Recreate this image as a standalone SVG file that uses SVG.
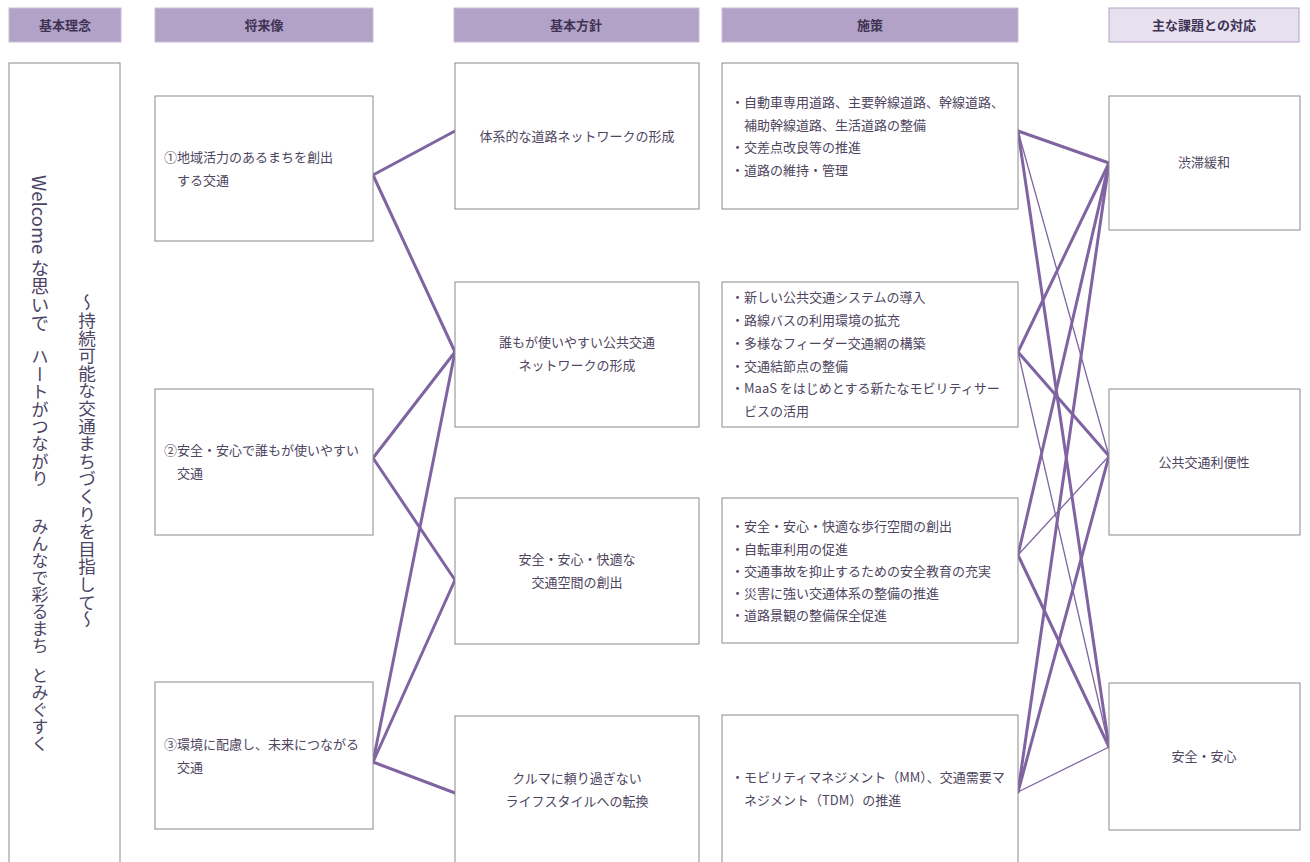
<svg xmlns="http://www.w3.org/2000/svg" width="1310" height="862" viewBox="0 0 1310 862">
<style>
.hd{fill:#b3a2c7;stroke:#c9bdd8;stroke-width:1}
.hd2{fill:#e6e0ef;stroke:#b3a2c7;stroke-width:1}
.ht{font-family:"Noto Sans CJK JP","Noto Sans CJK SC",sans-serif;font-size:13px;font-weight:bold;fill:#3f3354;text-anchor:middle}
.bx{fill:#fff;stroke:#8a8a8a;stroke-width:1}
.t{font-family:"Noto Sans CJK JP","Noto Sans CJK SC",sans-serif;font-size:13px;fill:#4e4560}
.c{text-anchor:middle}
.v{font-family:"Noto Sans CJK JP","Noto Sans CJK SC",sans-serif;fill:#4e4466;writing-mode:vertical-rl}
.k{stroke:#8064a2;stroke-width:3;fill:none;stroke-linecap:round}
.n{stroke:#8064a2;stroke-width:1.3;fill:none}
</style>
<rect width="1310" height="862" fill="#fff"/>
<g id="headers">
<rect class="hd" x="9" y="8" width="112" height="34"/><text class="ht" x="65" y="30">基本理念</text>
<rect class="hd" x="155" y="8" width="218" height="34"/><text class="ht" x="264" y="30">将来像</text>
<rect class="hd" x="454" y="8" width="245" height="34"/><text class="ht" x="576" y="30">基本方針</text>
<rect class="hd" x="722" y="8" width="296" height="34"/><text class="ht" x="870" y="30">施策</text>
<rect class="hd2" x="1109" y="8" width="190" height="34"/><text class="ht" x="1204" y="30">主な課題との対応</text>
</g>
<g id="connectors">
<line class="k" x1="373" y1="175" x2="455" y2="131"/>
<line class="k" x1="373" y1="175" x2="455" y2="352"/>
<line class="k" x1="373" y1="458" x2="455" y2="352"/>
<line class="k" x1="373" y1="458" x2="455" y2="580"/>
<line class="k" x1="373" y1="762" x2="455" y2="352"/>
<line class="k" x1="373" y1="762" x2="455" y2="580"/>
<line class="k" x1="373" y1="762" x2="455" y2="793"/>
<line class="k" x1="1018" y1="131" x2="1109" y2="163"/>
<line class="n" x1="1018" y1="131" x2="1109" y2="456"/>
<line class="k" x1="1018" y1="131" x2="1109" y2="747"/>
<line class="k" x1="1018" y1="352" x2="1109" y2="163"/>
<line class="k" x1="1018" y1="352" x2="1109" y2="456"/>
<line class="n" x1="1018" y1="352" x2="1109" y2="747"/>
<line class="k" x1="1018" y1="555" x2="1109" y2="163"/>
<line class="n" x1="1018" y1="555" x2="1109" y2="456"/>
<line class="k" x1="1018" y1="555" x2="1109" y2="747"/>
<line class="k" x1="1018" y1="792" x2="1109" y2="163"/>
<line class="k" x1="1018" y1="792" x2="1109" y2="456"/>
<line class="n" x1="1018" y1="792" x2="1109" y2="747"/>
</g>
<g id="rinen">
<rect class="bx" x="9" y="63" width="111" height="810"/>
<text class="v" x="40" y="175" font-size="18.5">Welcome な思いで</text>
<text class="v" x="40" y="348" font-size="17.4">ハートがつながり</text>
<text class="v" x="40" y="518" font-size="17">みんなで彩るまち</text>
<text class="v" x="40" y="667" font-size="17">とみぐすく</text>
<text class="v" x="87" y="294" font-size="17.6">～持続可能な交通まちづくりを目指して～</text>
</g>
<g id="shorai1"><rect class="bx" x="155" y="96" width="218" height="145"/>
<text class="t" x="164" y="162">①地域活力のあるまちを創出</text><text class="t" x="177" y="185">する交通</text></g>
<g id="shorai2"><rect class="bx" x="155" y="389" width="218" height="146"/>
<text class="t" x="164" y="455">②安全・安心で誰もが使いやすい</text><text class="t" x="177" y="478">交通</text></g>
<g id="shorai3"><rect class="bx" x="155" y="682" width="218" height="147"/>
<text class="t" x="164" y="749">③環境に配慮し、未来につながる</text><text class="t" x="177" y="772">交通</text></g>
<g id="hoshin1"><rect class="bx" x="455" y="63" width="244" height="146"/>
<text class="t c" x="577" y="141">体系的な道路ネットワークの形成</text></g>
<g id="hoshin2"><rect class="bx" x="455" y="282" width="244" height="145"/>
<text class="t c" x="577" y="347">誰もが使いやすい公共交通</text><text class="t c" x="577" y="370">ネットワークの形成</text></g>
<g id="hoshin3"><rect class="bx" x="455" y="498" width="244" height="146"/>
<text class="t c" x="577" y="564">安全・安心・快適な</text><text class="t c" x="577" y="587">交通空間の創出</text></g>
<g id="hoshin4"><rect class="bx" x="455" y="716" width="244" height="150"/>
<text class="t c" x="577" y="783">クルマに頼り過ぎない</text><text class="t c" x="577" y="806">ライフスタイルへの転換</text></g>
<g id="shisaku1"><rect class="bx" x="722" y="63" width="296" height="146"/>
<text class="t" x="731" y="107">・自動車専用道路、主要幹線道路、幹線道路、</text>
<text class="t" x="744" y="130">補助幹線道路、生活道路の整備</text>
<text class="t" x="731" y="152">・交差点改良等の推進</text>
<text class="t" x="731" y="175">・道路の維持・管理</text></g>
<g id="shisaku2"><rect class="bx" x="722" y="282" width="296" height="145"/>
<text class="t" x="731" y="302">・新しい公共交通システムの導入</text>
<text class="t" x="731" y="325">・路線バスの利用環境の拡充</text>
<text class="t" x="731" y="348">・多様なフィーダー交通網の構築</text>
<text class="t" x="731" y="371">・交通結節点の整備</text>
<text class="t" x="731" y="393">・MaaS をはじめとする新たなモビリティサー</text>
<text class="t" x="744" y="416">ビスの活用</text></g>
<g id="shisaku3"><rect class="bx" x="722" y="498" width="296" height="145"/>
<text class="t" x="731" y="531">・安全・安心・快適な歩行空間の創出</text>
<text class="t" x="731" y="554">・自転車利用の促進</text>
<text class="t" x="731" y="576">・交通事故を抑止するための安全教育の充実</text>
<text class="t" x="731" y="598">・災害に強い交通体系の整備の推進</text>
<text class="t" x="731" y="620">・道路景観の整備保全促進</text></g>
<g id="shisaku4"><rect class="bx" x="722" y="715" width="296" height="150"/>
<text class="t" x="731" y="782">・モビリティマネジメント（MM）、交通需要マ</text>
<text class="t" x="744" y="805">ネジメント（TDM）の推進</text></g>
<g id="kadai1"><rect class="bx" x="1109" y="96" width="191" height="134"/>
<text class="t c" x="1204" y="167">渋滞緩和</text></g>
<g id="kadai2"><rect class="bx" x="1109" y="389" width="191" height="146"/>
<text class="t c" x="1204" y="467">公共交通利便性</text></g>
<g id="kadai3"><rect class="bx" x="1109" y="683" width="191" height="147"/>
<text class="t c" x="1204" y="761">安全・安心</text></g>
</svg>
